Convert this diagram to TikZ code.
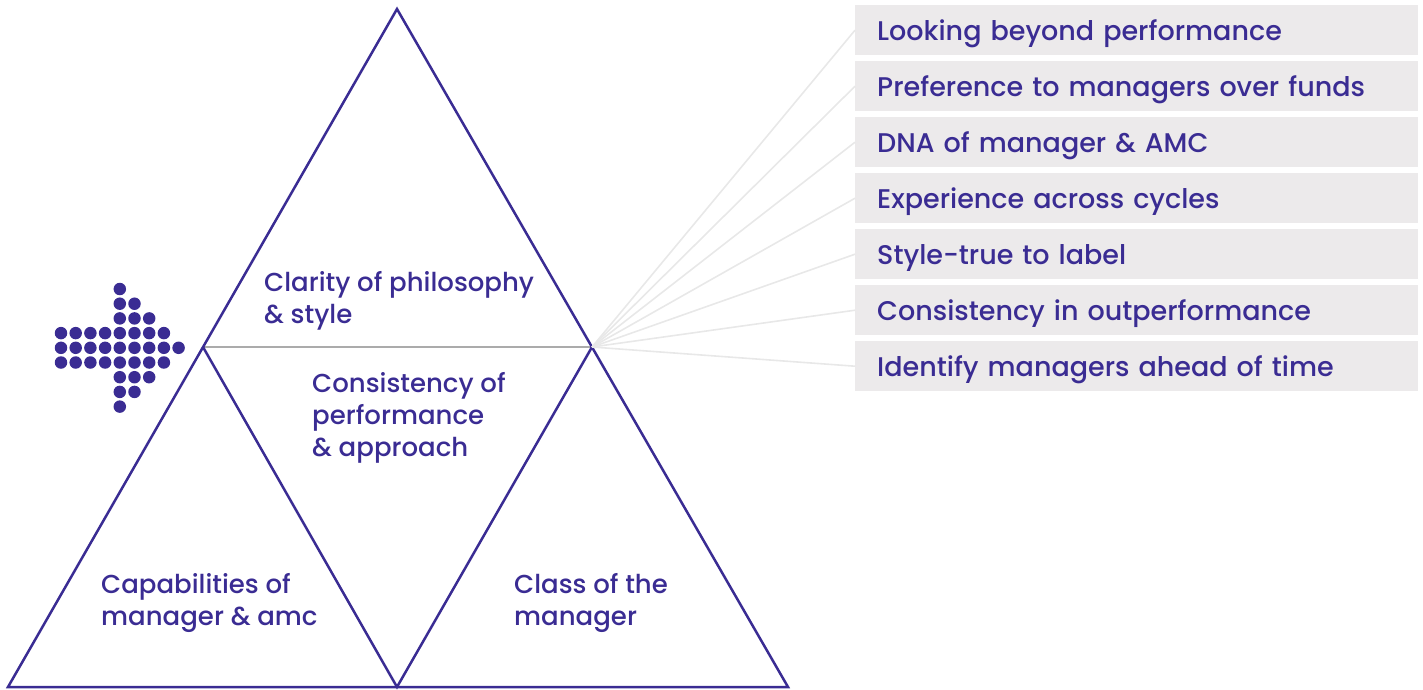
\documentclass[tikz,border=0pt]{standalone}
\usepackage{fontspec}
\IfFontExistsTF{Poppins Medium}{\setmainfont{Poppins Medium}}{\setmainfont{Poppins}[FakeBold=0.6]}
\usetikzlibrary{positioning}
\definecolor{navy}{HTML}{3A2C93}
\definecolor{boxgray}{HTML}{ECEAEB}
\definecolor{fangray}{HTML}{E8E8E8}
\definecolor{midgray}{HTML}{ABABAB}
\tikzset{
  edge/.style={draw=navy, line width=2.5pt},
  divider/.style={draw=midgray, line width=2.5pt},
  ray/.style={draw=fangray, line width=1.6pt},
  item/.style={rectangle, fill=boxgray, anchor=north west,
               minimum height=50pt, text width=519pt,
               text height=22pt, text depth=2pt,
               inner xsep=22pt, inner ysep=0pt, align=left,
               text=navy, font=\fontsize{27}{32}\selectfont},
  lbl/.style={anchor=west, inner sep=0pt, align=left,
              text=navy, font=\fontsize{26}{32}\selectfont},
  dot/.style={circle, fill=navy, inner sep=0pt, minimum size=12.5pt},
}

\begin{document}
\begin{tikzpicture}[x=1pt, y=-1pt]
  \useasboundingbox (0,0) rectangle (1423,689);
  % triangle corners
  \coordinate (top) at (397,9);
  \coordinate (bl)  at (8,687);
  \coordinate (br)  at (788,687);
  \coordinate (ml)  at (203,347);
  \coordinate (mr)  at (592,347);
  \coordinate (bm)  at (397,687);

  \draw[divider] (ml) -- (mr);
  \draw[edge] (top) -- (bl) -- (br) -- cycle;
  \draw[edge] (ml) -- (bm) -- (mr);

  \node[lbl] (clarity) at (264,301) {Clarity of philosophy\\\& style};
  \node[lbl] (consist) at (312,418) {Consistency of\\performance\\\& approach};
  \node[lbl] (capab)   at (101,603) {Capabilities of\\manager \& amc};
  \node[lbl] (class)   at (514,603) {Class of the\\manager};

  % dotted arrow
  \foreach \r in {0,...,8} {
    \pgfmathtruncatemacro{\dd}{abs(\r-4)}
    \pgfmathtruncatemacro{\cmax}{8-\dd}
    \pgfmathtruncatemacro{\cmin}{\dd>1 ? 4 : 0}
    \foreach \c in {\cmin,...,\cmax}
      \node[dot] (d\r-\c) at (61+14.7*\c, 289+14.7*\r) {};
  }

  % list of points
  \foreach \t [count=\i] in {Looking beyond performance,
      Preference to managers over funds, DNA of manager \& AMC,
      Experience across cycles, Style-true to label,
      Consistency in outperformance, Identify managers ahead of time}
    \node[item] (b\i) at (855, 5+56*\i-56) {\t};

  \foreach \i in {1,...,7}
    \draw[ray] (mr) -- (b\i.west);
\end{tikzpicture}
\end{document}
